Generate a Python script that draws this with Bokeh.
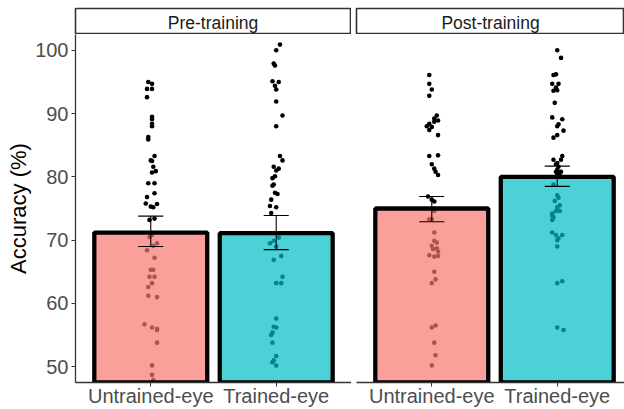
from bokeh.plotting import figure
from bokeh.layouts import column, row
from bokeh.models import Range1d, FixedTicker, Label
from bokeh.embed import file_html
from bokeh.resources import INLINE

# ---------------- data ----------------
categories = ["Untrained-eye", "Trained-eye"]
panels = ["Pre-training", "Post-training"]

pre_means = [71.2, 71.1]
pre_lower = [69.0, 68.5]
pre_upper = [73.8, 73.9]
post_means = [75.0, 80.0]
post_lower = [72.9, 78.5]
post_upper = [76.9, 81.7]

y_ticks = [50, 60, 70, 80, 90, 100]

# individual participants (accuracy %) and their horizontal jitter (category units)
pre_untrained_y = [95.0, 94.7, 93.9, 93.9, 92.6, 89.5, 89.1, 88.4, 88.0, 86.3, 85.9,
                   83.3, 82.6, 82.5, 81.6, 80.9, 80.7, 79.0, 79.0, 76.8, 77.4, 75.8,
                   75.7, 75.3, 75.2, 73.4, 73.2, 70.8, 70.5, 69.5, 69.1, 68.4, 67.2,
                   65.3, 65.3, 64.2, 64.2, 63.2, 62.6, 61.2, 61.0, 56.7, 56.2, 56.0,
                   55.8, 53.8, 50.2, 48.7, 47.9]
pre_untrained_dx = [-0.02, 0.01, -0.03, 0.01, -0.03, 0.01, 0.01, 0.01, 0.01, -0.02, -0.02,
                    0.03, 0.00, 0.01, 0.02, 0.04, 0.01, -0.02, 0.03, -0.03, 0.03, -0.04,
                    0.05, 0.00, 0.02, 0.03, -0.01, 0.01, -0.01, 0.05, 0.02, -0.03, 0.03,
                    0.00, 0.02, -0.01, 0.03, 0.01, -0.02, -0.02, 0.05, -0.05, 0.01, 0.05,
                    0.05, 0.05, 0.01, 0.01, 0.02]

pre_trained_y = [100.9, 100.0, 97.9, 97.6, 95.1, 95.0, 94.4, 93.8, 91.9, 89.7, 88.0,
                 83.3, 82.6, 81.6, 81.3, 81.0, 80.1, 79.8, 78.8, 78.6, 77.5, 77.3,
                 76.4, 75.4, 75.2, 74.3, 70.4, 69.9, 69.5, 69.0, 67.5, 66.9, 64.2,
                 63.2, 63.2, 57.6, 56.3, 56.2, 55.4, 55.0, 53.8, 51.7, 51.0, 50.7, 50.2]
pre_trained_dx = [0.03, 0.00, -0.02, -0.01, -0.03, 0.02, -0.01, 0.00, 0.00, 0.05, 0.00,
                  0.03, 0.05, -0.02, 0.02, 0.00, -0.01, -0.03, -0.02, -0.03, -0.01, 0.01,
                  -0.04, -0.05, 0.00, -0.04, 0.02, -0.02, -0.05, 0.00, 0.04, -0.02, 0.05,
                  0.00, 0.04, 0.00, -0.02, 0.00, -0.03, -0.04, -0.03, 0.00, -0.02, -0.03, 0.00]

post_untrained_y = [96.1, 94.7, 93.8, 92.8, 89.7, 89.2, 88.9, 88.7, 88.4, 88.0, 87.9,
                    87.4, 86.6, 83.3, 83.4, 82.0, 81.3, 80.8, 80.3, 76.9, 76.4, 76.1,
                    74.6, 73.3, 73.3, 71.2, 69.9, 69.6, 69.1, 68.6, 68.7, 68.2, 67.6,
                    67.4, 67.5, 65.0, 63.8, 63.2, 56.2, 56.5, 53.8, 51.8, 50.2]
post_untrained_dx = [-0.02, -0.02, 0.00, -0.02, 0.04, 0.02, 0.05, 0.02, -0.02, -0.04, 0.00,
                     -0.02, 0.05, -0.02, 0.05, 0.00, 0.02, 0.03, 0.05, -0.03, 0.00, 0.02,
                     0.02, -0.02, 0.00, 0.02, 0.02, 0.04, 0.00, 0.01, 0.04, 0.05, -0.02,
                     0.02, 0.05, 0.02, 0.03, 0.00, 0.00, 0.03, 0.02, 0.03, 0.00]

post_trained_y = [100.0, 98.8, 96.1, 96.2, 94.7, 94.7, 94.1, 93.6, 93.7, 91.7, 89.4,
                  89.1, 88.3, 88.0, 87.3, 86.6, 86.2, 83.3, 82.7, 82.7, 82.2, 82.0,
                  81.6, 81.1, 80.8, 80.8, 80.5, 80.3, 80.2, 78.8, 77.1, 76.7, 76.2,
                  75.5, 75.2, 74.2, 74.6, 74.6, 73.9, 73.6, 73.2, 71.2, 70.8, 70.8,
                  70.3, 70.0, 69.0, 63.2, 63.5, 56.2, 55.8]
post_trained_dx = [0.00, 0.03, -0.03, -0.01, -0.04, 0.01, -0.01, -0.03, 0.00, -0.02, -0.04,
                   0.04, 0.01, 0.00, 0.05, 0.00, -0.03, 0.04, 0.03, -0.03, 0.00, -0.01,
                   0.01, 0.00, -0.01, 0.03, 0.01, 0.00, 0.02, -0.03, 0.00, 0.01, -0.02,
                   0.02, 0.00, -0.04, -0.01, 0.02, -0.04, -0.03, -0.04, -0.04, -0.01, 0.04,
                   0.01, 0.00, 0.00, 0.00, 0.04, 0.00, 0.05]

# ---------------- style ----------------
FONT = "Liberation Sans"
FILLS = ["#F8766D", "#00BFC4"]
AXIS_COLOR = "#333333"
TICK_TEXT = "#4D4D4D"

Y_RANGE = (47.5, 102.5)
PANEL_H = 375
STRIP_H = 34


def make_panel(means, lower, upper, points, width, border_left, x_end, show_y):
    p = figure(width=width, height=PANEL_H,
               x_range=Range1d(0.4, x_end), y_range=Range1d(*Y_RANGE),
               output_backend="svg", toolbar_location=None,
               min_border_left=border_left, min_border_right=0,
               min_border_top=0, min_border_bottom=27)
    p.grid.visible = False
    p.outline_line_color = None
    p.background_fill_color = "white"
    p.border_fill_color = "white"

    xs_cat = [i + 1 for i in range(len(categories))]

    # jittered points (drawn first so the translucent bars tint them)
    for xc, (vals, dx) in zip(xs_cat, points):
        p.scatter([xc + d for d in dx], vals, size=4.6, color="black", line_width=0)

    # bars
    p.vbar(x=xs_cat, top=means, bottom=0, width=0.9,
           fill_color=FILLS, fill_alpha=0.7,
           line_color="black", line_width=4.3)

    # error bars
    p.segment(x0=xs_cat, y0=lower, x1=xs_cat, y1=upper, line_color="black", line_width=1.1)
    p.segment(x0=[x - 0.1 for x in xs_cat], y0=lower, x1=[x + 0.1 for x in xs_cat], y1=lower,
              line_color="black", line_width=1.1)
    p.segment(x0=[x - 0.1 for x in xs_cat], y0=upper, x1=[x + 0.1 for x in xs_cat], y1=upper,
              line_color="black", line_width=1.1)

    # x axis
    xa = p.xaxis[0]
    xa.ticker = FixedTicker(ticks=xs_cat)
    xa.major_label_overrides = {x: c for x, c in zip(xs_cat, categories)}
    xa.minor_tick_line_color = None
    xa.major_tick_in = 0
    xa.major_tick_out = 4
    xa.major_tick_line_color = AXIS_COLOR
    xa.axis_line_color = AXIS_COLOR
    xa.axis_line_width = 1.3
    xa.major_label_text_font = FONT
    xa.major_label_text_font_size = "20px"
    xa.major_label_text_color = TICK_TEXT
    xa.major_label_standoff = -2

    ya = p.yaxis[0]
    if show_y:
        ya.ticker = FixedTicker(ticks=y_ticks)
        ya.minor_tick_line_color = None
        ya.major_tick_in = 0
        ya.major_tick_out = 4
        ya.major_tick_line_color = AXIS_COLOR
        ya.axis_line_color = AXIS_COLOR
        ya.axis_line_width = 1.3
        ya.major_label_text_font = FONT
        ya.major_label_text_font_size = "20px"
        ya.major_label_text_color = TICK_TEXT
        ya.major_label_standoff = 3
        ya.axis_label = "Accuracy (%)"
        ya.axis_label_text_font = FONT
        ya.axis_label_text_font_size = "22px"
        ya.axis_label_text_font_style = "normal"
        ya.axis_label_text_color = "black"
        ya.axis_label_standoff = 1
    else:
        ya.visible = False
    return p


def make_strip(text, width, border_left, border_right):
    s = figure(width=width, height=STRIP_H, x_range=Range1d(0, 1), y_range=Range1d(0, 1),
               x_axis_location=None, y_axis_location=None,
               output_backend="svg", toolbar_location=None,
               min_border_left=border_left, min_border_right=border_right,
               min_border_top=8, min_border_bottom=0)
    s.grid.visible = False
    s.background_fill_color = "white"
    s.border_fill_color = "white"
    s.outline_line_color = AXIS_COLOR
    s.outline_line_width = 1.6
    s.add_layout(Label(x=0.5, y=0.45, text=text, text_align="center", text_baseline="middle",
                       text_font=FONT, text_font_size="17.5px", text_color="#1A1A1A"))
    return s


pre_points = [(pre_untrained_y, pre_untrained_dx), (pre_trained_y, pre_trained_dx)]
post_points = [(post_untrained_y, post_untrained_dx), (post_trained_y, post_trained_dx)]

p1 = make_panel(pre_means, pre_lower, pre_upper, pre_points, 351, 75, 2.6, True)
p2 = make_panel(post_means, post_lower, post_upper, post_points, 273, 5, 2.536, False)

s1 = make_strip(panels[0], 351, 75, 1)
s2 = make_strip(panels[1], 273, 5, 0)

layout = column(row(s1, s2), row(p1, p2))

open("out.html", "w").write(file_html(layout, INLINE))
